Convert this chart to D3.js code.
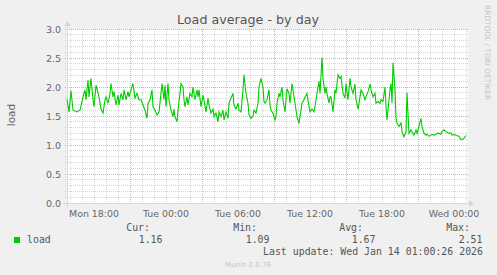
<!DOCTYPE html>
<html>
<head>
<meta charset="utf-8">
<script src="https://cdn.jsdelivr.net/npm/d3@7"></script>
<style>
  body { margin: 0; background: #f0f0f0; }
  svg { display: block; }
  text { font-family: "DejaVu Sans", sans-serif; fill: #666; }
  .mono { font-family: "DejaVu Sans Mono", monospace; fill: #555; }
</style>
</head>
<body>
<svg id="chart" width="497" height="275"></svg>
<script>
// munin "load" day graph, 5 minute slots counted from the left edge of the graph
const START = new Date(2026, 0, 12, 15, 45);
const END = new Date(2026, 0, 14, 1, 10);

const slots = [
  0, 2, 4, 6, 10, 13, 16, 18, 19, 21,
  22, 24, 26, 27, 29, 30, 32, 34, 36, 38,
  39, 41, 43, 44, 46, 47, 49, 51, 52, 54,
  56, 57, 59, 61, 62, 64, 66, 68, 70, 72,
  74, 76, 78, 80, 81, 83, 85, 86, 88, 90,
  92, 94, 95, 97, 98, 99, 101, 102, 104, 106,
  107, 108, 110, 111, 113, 114, 116, 117, 118, 120,
  121, 123, 125, 126, 128, 130, 131, 132, 134, 136,
  137, 139, 141, 142, 144, 146, 147, 149, 151, 152,
  154, 156, 157, 159, 161, 162, 164, 166, 167, 169,
  171, 172, 174, 176, 177, 179, 181, 182, 184, 186,
  187, 189, 191, 192, 194, 196, 197, 198, 200, 202,
  203, 204, 206, 208, 209, 210, 212, 213, 215, 216,
  218, 219, 220, 222, 223, 225, 227, 228, 230, 232,
  233, 235, 237, 238, 240, 242, 243, 245, 247, 248,
  250, 252, 253, 255, 256, 258, 259, 260, 262, 263,
  264, 266, 268, 269, 271, 273, 274, 276, 278, 279,
  281, 283, 284, 286, 288, 289, 291, 293, 294, 296,
  298, 299, 301, 303, 304, 306, 308, 309, 311, 313,
  314, 316, 318, 319, 320, 322, 323, 324, 325, 326,
  328, 329, 330, 332, 334, 335, 337, 339, 340, 342,
  344, 345, 347, 349, 350, 352, 354, 355, 357, 359,
  360, 362, 364, 365, 367, 369, 370, 372, 374, 375,
  377, 379, 380, 382, 384, 385, 387, 389, 390, 392,
  394, 395, 397, 399
];

const load = [
  1.78, 1.57, 1.94, 1.60, 1.57, 1.60, 1.83, 1.95, 1.78, 2.12,
  1.83, 2.15, 1.78, 1.66, 2.03, 1.97, 1.83, 1.62, 1.55, 1.78,
  1.83, 1.72, 1.89, 2.06, 1.83, 1.92, 1.69, 1.86, 1.69, 1.89,
  1.78, 1.95, 1.78, 1.92, 1.83, 1.95, 2.06, 1.81, 1.89, 1.78,
  1.78, 1.69, 1.60, 1.46, 1.72, 1.78, 1.95, 1.66, 1.60, 1.52,
  1.57, 1.89, 2.06, 1.78, 2.03, 1.66, 2.06, 1.78, 1.60, 1.49,
  1.62, 1.49, 1.40, 1.60, 1.89, 2.06, 2.00, 1.78, 1.66, 1.83,
  1.69, 1.89, 1.83, 2.00, 1.78, 1.95, 1.83, 1.95, 1.66, 1.86,
  1.78, 1.57, 1.81, 1.69, 1.55, 1.62, 1.49, 1.55, 1.40, 1.57,
  1.49, 1.60, 1.43, 1.57, 1.46, 1.72, 1.81, 1.89, 1.69, 1.62,
  1.72, 1.60, 1.57, 1.95, 2.21, 1.89, 1.72, 1.52, 1.46, 1.49,
  1.60, 1.55, 1.72, 2.00, 2.15, 2.00, 1.75, 1.72, 1.78, 1.95,
  1.69, 1.60, 1.55, 1.43, 1.49, 1.72, 1.89, 1.83, 2.00, 1.78,
  1.57, 1.78, 1.97, 1.89, 1.72, 2.06, 1.83, 1.72, 1.49, 1.37,
  1.49, 1.72, 1.78, 1.83, 1.89, 1.66, 1.57, 1.62, 1.57, 1.66,
  1.89, 2.10, 1.89, 2.51, 2.15, 1.89, 2.00, 1.89, 1.72, 1.83,
  1.83, 1.57, 1.95, 1.89, 2.21, 2.15, 2.18, 1.89, 1.81, 2.06,
  1.78, 2.15, 2.00, 1.89, 2.05, 1.78, 1.62, 1.83, 1.95, 1.89,
  1.78, 1.83, 1.92, 2.05, 1.95, 1.83, 1.89, 1.72, 1.75, 1.72,
  1.78, 1.75, 2.00, 1.66, 1.43, 1.78, 1.95, 2.06, 1.72, 2.42,
  1.95, 1.46, 1.38, 1.32, 1.38, 1.23, 1.14, 1.23, 1.90, 1.20,
  1.26, 1.23, 1.17, 1.26, 1.20, 1.32, 1.46, 1.32, 1.20, 1.17,
  1.19, 1.15, 1.17, 1.18, 1.17, 1.18, 1.20, 1.20, 1.19, 1.23,
  1.26, 1.23, 1.22, 1.20, 1.21, 1.17, 1.18, 1.17, 1.16, 1.15,
  1.09, 1.09, 1.12, 1.16
];

const xTickLabels = ["Mon 18:00", "Tue 00:00", "Tue 06:00", "Tue 12:00", "Tue 18:00", "Wed 00:00"];
const xTickDates = [
  new Date(2026, 0, 12, 18), new Date(2026, 0, 13, 0), new Date(2026, 0, 13, 6),
  new Date(2026, 0, 13, 12), new Date(2026, 0, 13, 18), new Date(2026, 0, 14, 0)
];
const yTicks = [0, 0.5, 1, 1.5, 2, 2.5, 3];

const statNames = ["Cur:", "Min:", "Avg:", "Max:"];
const statValues = ["1.16", "1.09", "1.67", "2.51"];

const svg = d3.select("#chart");
const plot = { left: 67, right: 468, top: 29, bottom: 203 };

const x = d3.scaleTime([START, END], [plot.left, plot.right]);
const y = d3.scaleLinear([0, 3], [plot.bottom, plot.top]);
const px = (v) => Math.floor(v) + 0.5;

// canvas
svg.append("rect")
  .attr("x", plot.left).attr("y", plot.top)
  .attr("width", plot.right - plot.left).attr("height", plot.bottom - plot.top)
  .attr("fill", "#fff");

// title + watermark
svg.append("text")
  .attr("x", 248).attr("y", 23.5)
  .attr("text-anchor", "middle")
  .style("font-size", "12.7px")
  .style("fill", "#555")
  .text("Load average - by day");

svg.append("text")
  .attr("transform", "translate(485,5) rotate(90)")
  .style("font-size", "7.4px")
  .style("fill", "#c4c4c4")
  .text("RRDTOOL / TOBI OETIKER");

// horizontal grid
const grid = svg.append("g");
const yGrid = d3.range(1, 31).map((i) => i / 10);
grid.selectAll("line.h")
  .data(yGrid)
  .join("line")
  .attr("x1", plot.left - 2).attr("x2", plot.right)
  .attr("y1", (d) => px(y(d))).attr("y2", (d) => px(y(d)))
  .attr("stroke", (d, i) => ((i + 1) % 5 === 0 ? "rgba(200,40,40,0.4)" : "rgba(140,140,140,0.35)"))
  .attr("stroke-dasharray", "1,1");

// vertical grid, hourly; red every 6h offset by 3h
const hours = d3.timeHour.range(d3.timeHour.ceil(START), END);
grid.selectAll("line.v")
  .data(hours)
  .join("line")
  .attr("x1", (d) => px(x(d))).attr("x2", (d) => px(x(d)))
  .attr("y1", plot.top).attr("y2", plot.bottom + 2)
  .attr("stroke", (d) => (d.getHours() % 6 === 3 ? "rgba(200,40,40,0.4)" : "rgba(140,140,140,0.35)"))
  .attr("stroke-dasharray", "1,1");

// axes
const axisColor = "#cfd6f8";
svg.append("line")
  .attr("x1", plot.left - 4).attr("x2", plot.right + 2)
  .attr("y1", plot.bottom + 0.5).attr("y2", plot.bottom + 0.5)
  .attr("stroke", axisColor);
svg.append("path")
  .attr("d", `M${plot.right + 1},${plot.bottom - 3} L${plot.right + 6},${plot.bottom + 0.5} L${plot.right + 1},${plot.bottom + 4} Z`)
  .attr("fill", axisColor);
svg.append("line")
  .attr("x1", plot.left + 0.5).attr("x2", plot.left + 0.5)
  .attr("y1", plot.bottom + 4).attr("y2", plot.top - 4)
  .attr("stroke", axisColor);
svg.append("path")
  .attr("d", `M${plot.left - 3},${plot.top - 3} L${plot.left + 0.5},${plot.top - 8} L${plot.left + 4},${plot.top - 3} Z`)
  .attr("fill", axisColor);

// tick labels
svg.append("g")
  .selectAll("text")
  .data(yTicks)
  .join("text")
  .attr("x", 61)
  .attr("y", (d) => y(d) + 3.5)
  .attr("text-anchor", "end")
  .style("font-size", "9.5px")
  .text((d) => d3.format(".1f")(d));

svg.append("g")
  .selectAll("text")
  .data(xTickDates)
  .join("text")
  .attr("x", (d) => x(d))
  .attr("y", 216.5)
  .attr("text-anchor", "middle")
  .style("font-size", "9.4px")
  .text((d, i) => xTickLabels[i]);

svg.append("text")
  .attr("transform", "translate(15,115) rotate(-90)")
  .attr("text-anchor", "middle")
  .style("font-size", "10.5px")
  .text("load");

// data line
const series = slots.map((s, i) => ({ t: d3.timeMinute.offset(START, s * 5), v: load[i] }));
svg.append("path")
  .datum(series)
  .attr("fill", "none")
  .attr("stroke", "#00cc00")
  .attr("stroke-width", 1.1)
  .attr("d", d3.line().x((d) => x(d.t)).y((d) => y(d.v)));

// legend
svg.append("rect")
  .attr("x", 14).attr("y", 237)
  .attr("width", 6).attr("height", 6)
  .attr("fill", "#00cc00");
svg.append("text").attr("class", "mono")
  .attr("x", 27).attr("y", 243)
  .style("font-size", "9.9px")
  .text("load");

const colEnds = [150, 257, 363, 470];
const legend = svg.append("g").attr("class", "stats");
legend.selectAll("text.name")
  .data(statNames)
  .join("text")
  .attr("class", "mono")
  .attr("x", (d, i) => colEnds[i]).attr("y", 231)
  .attr("text-anchor", "end")
  .style("font-size", "9.9px")
  .text((d) => d);
legend.selectAll("text.val")
  .data(statValues)
  .join("text")
  .attr("class", "mono")
  .attr("x", (d, i) => colEnds[i] + 12.5).attr("y", 243)
  .attr("text-anchor", "end")
  .style("font-size", "9.9px")
  .text((d) => d);

svg.append("text").attr("class", "mono")
  .attr("x", 483).attr("y", 255)
  .attr("text-anchor", "end")
  .style("font-size", "9.9px")
  .text("Last update: Wed Jan 14 01:00:26 2026");

svg.append("text")
  .attr("x", 248).attr("y", 267)
  .attr("text-anchor", "middle")
  .style("font-size", "7px")
  .style("fill", "#c4c4c4")
  .text("Munin 2.0.76");
</script>
</body>
</html>
